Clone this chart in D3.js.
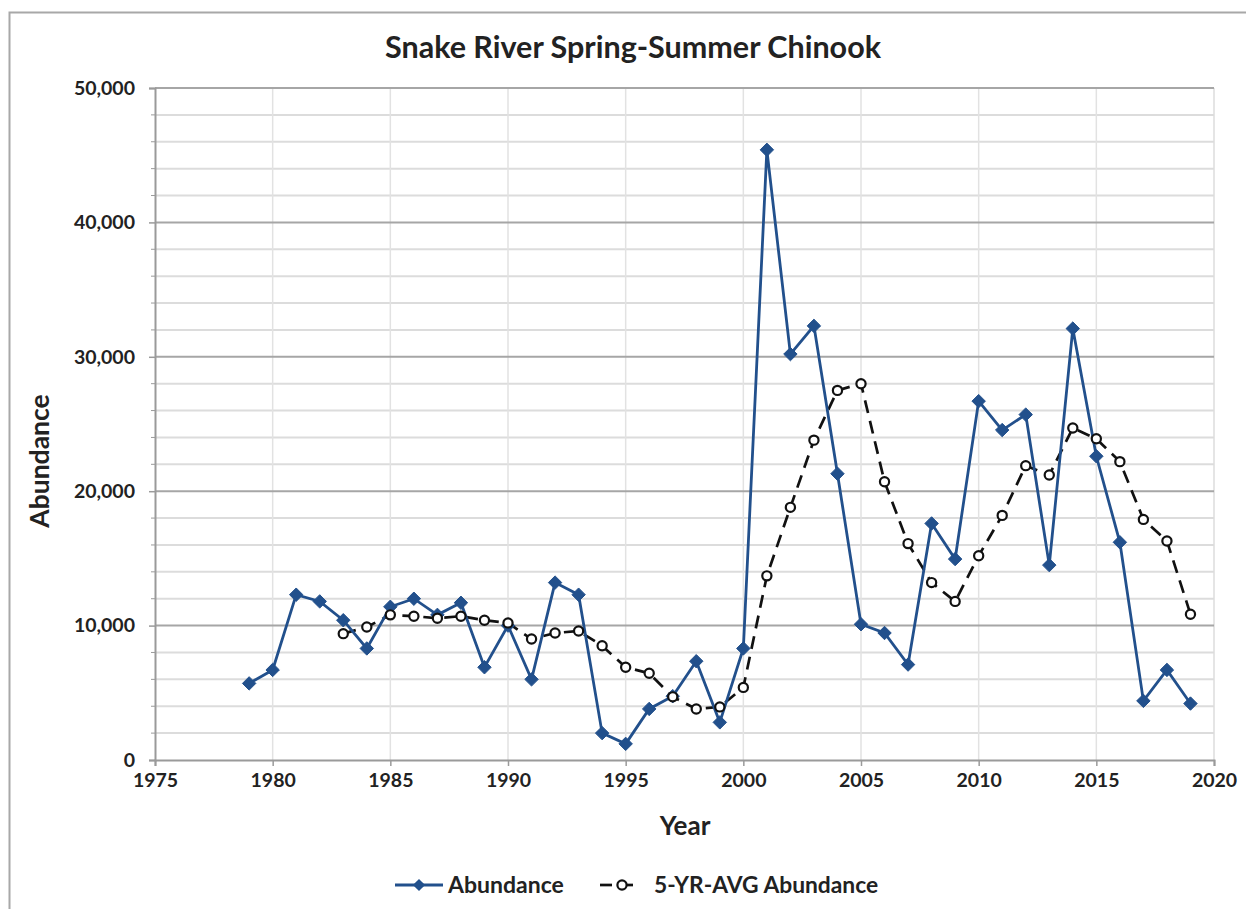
<!DOCTYPE html>
<html><head><meta charset="utf-8">
<script src="https://cdn.jsdelivr.net/npm/d3@7"></script>
<style>
html,body{margin:0;padding:0;background:#fff;}
svg text{font-family:Lato,"Open Sans",sans-serif;font-weight:bold;fill:#222;}
</style></head>
<body>
<svg id="chart" width="1246" height="909"></svg>
<script>
const years = [1979,1980,1981,1982,1983,1984,1985,1986,1987,1988,1989,1990,1991,1992,1993,1994,1995,1996,1997,1998,1999,2000,2001,2002,2003,2004,2005,2006,2007,2008,2009,2010,2011,2012,2013,2014,2015,2016,2017,2018,2019];
const abundance = [5700,6700,12300,11800,10400,8300,11400,12000,10800,11700,6900,10000,6000,13200,12300,2000,1200,3800,4750,7350,2800,8300,45400,30200,32300,21300,10100,9450,7100,17600,14950,26700,24550,25700,14500,32100,22600,16200,4400,6700,4200];
const avgYears = [1983,1984,1985,1986,1987,1988,1989,1990,1991,1992,1993,1994,1995,1996,1997,1998,1999,2000,2001,2002,2003,2004,2005,2006,2007,2008,2009,2010,2011,2012,2013,2014,2015,2016,2017,2018,2019];
const avgAbundance = [9400,9900,10800,10700,10550,10700,10400,10200,9000,9450,9600,8500,6900,6450,4700,3800,3950,5400,13700,18800,23800,27500,28000,20700,16100,13200,11800,15200,18200,21900,21200,24700,23900,22200,17900,16300,10850];
const xTicks = [1975,1980,1985,1990,1995,2000,2005,2010,2015,2020];
const yTicks = [0,10000,20000,30000,40000,50000];
const title = "Snake River Spring-Summer Chinook";
const xTitle = "Year";
const yTitle = "Abundance";
const legendLabels = ["Abundance","5-YR-AVG Abundance"];

const svg = d3.select("#chart");
const L = 155, R = 1214, T = 88, B = 760;
const x = d3.scaleLinear().domain([1975,2020]).range([L,R]);
const y = d3.scaleLinear().domain([0,50000]).range([B,T]);
const blue = "#22508c";

// outer border
svg.append("path").attr("d","M9.5,909 L9.5,12.5 L1246,12.5").attr("fill","none").attr("stroke","#a8a8a8").attr("stroke-width",2);

// gridlines
const g = svg.append("g");
d3.range(2000,50001,2000).filter(v=>v%10000!==0).forEach(v=>{
  g.append("line").attr("x1",L).attr("x2",R).attr("y1",y(v)).attr("y2",y(v)).attr("stroke","#dcdcdc").attr("stroke-width",2);
});
xTicks.slice(1,-1).forEach(v=>{
  g.append("line").attr("x1",x(v)).attr("x2",x(v)).attr("y1",T).attr("y2",B).attr("stroke","#e2e2e2").attr("stroke-width",1.5);
});
g.append("line").attr("x1",R).attr("x2",R).attr("y1",T).attr("y2",B).attr("stroke","#dcdcdc").attr("stroke-width",1.5);
yTicks.slice(1).forEach(v=>{
  g.append("line").attr("x1",L).attr("x2",R).attr("y1",y(v)).attr("y2",y(v)).attr("stroke","#a6a6a6").attr("stroke-width",2);
});

// axes
const yAxis = d3.axisLeft(y).tickValues(yTicks).tickSize(6).tickPadding(14).tickFormat(d3.format(","));
const ya = svg.append("g").attr("transform",`translate(${L},0)`).call(yAxis);
const xAxis = d3.axisBottom(x).tickValues(xTicks).tickSize(6).tickPadding(7).tickFormat(d3.format("d"));
const xa = svg.append("g").attr("transform",`translate(0,${B})`).call(xAxis);
[ya,xa].forEach(a=>{
  a.select(".domain").attr("stroke","#9a9a9a").attr("stroke-width",2);
  a.selectAll(".tick line").attr("stroke","#9a9a9a").attr("stroke-width",1.5);
  a.selectAll("text").attr("font-size",19.5).attr("font-family","Lato, 'Open Sans', sans-serif").attr("font-weight","bold").attr("fill","#222");
});
// minor y ticks
d3.range(2000,50001,2000).filter(v=>v%10000!==0).forEach(v=>{
  svg.append("line").attr("x1",L-4).attr("x2",L).attr("y1",y(v)).attr("y2",y(v)).attr("stroke","#9a9a9a").attr("stroke-width",1);
});

// 5-yr avg line
const avgData = avgYears.map((yr,i)=>({yr,v:avgAbundance[i]}));
const lineGen = d3.line().x(d=>x(d.yr)).y(d=>y(d.v));
svg.append("path").datum(avgData).attr("d",lineGen).attr("fill","none").attr("stroke","#111").attr("stroke-width",2.7).attr("stroke-dasharray","13,8");

// abundance line
const abData = years.map((yr,i)=>({yr,v:abundance[i]}));
svg.append("path").datum(abData).attr("d",lineGen).attr("fill","none").attr("stroke",blue).attr("stroke-width",2.8);
svg.append("g").selectAll("path").data(abData).join("path")
  .attr("d",d3.symbol().type(d3.symbolDiamond2).size(115))
  .attr("transform",d=>`translate(${x(d.yr)},${y(d.v)})`)
  .attr("fill",blue).attr("stroke",blue).attr("stroke-width",1);

svg.append("g").selectAll("circle").data(avgData).join("circle")
  .attr("cx",d=>x(d.yr)).attr("cy",d=>y(d.v)).attr("r",4.6)
  .attr("fill","#fff").attr("stroke","#111").attr("stroke-width",2.2);

// titles
svg.append("text").attr("x",633).attr("y",58).attr("text-anchor","middle").attr("font-size",30.5).text(title);
svg.append("text").attr("x",685).attr("y",835).attr("text-anchor","middle").attr("font-size",26).text(xTitle);
svg.append("text").attr("transform","translate(49,461) rotate(-90)").attr("text-anchor","middle").attr("font-size",26.5).text(yTitle);

// legend
const ly = 885;
svg.append("line").attr("x1",395).attr("x2",443).attr("y1",ly).attr("y2",ly).attr("stroke",blue).attr("stroke-width",2.8);
svg.append("path").attr("d",d3.symbol().type(d3.symbolDiamond2).size(95)).attr("transform",`translate(419,${ly})`).attr("fill",blue);
svg.append("text").attr("x",448).attr("y",ly+8).attr("font-size",23).text(legendLabels[0]);
svg.append("line").attr("x1",600).attr("x2",612).attr("y1",ly).attr("y2",ly).attr("stroke","#111").attr("stroke-width",2.7);
svg.append("line").attr("x1",620).attr("x2",633).attr("y1",ly).attr("y2",ly).attr("stroke","#111").attr("stroke-width",2.7);
svg.append("circle").attr("cx",622).attr("cy",ly).attr("r",4.6).attr("fill","#fff").attr("stroke","#111").attr("stroke-width",2.2);
svg.append("text").attr("x",654).attr("y",ly+8).attr("font-size",22.8).text(legendLabels[1]);
</script>
</body></html>
